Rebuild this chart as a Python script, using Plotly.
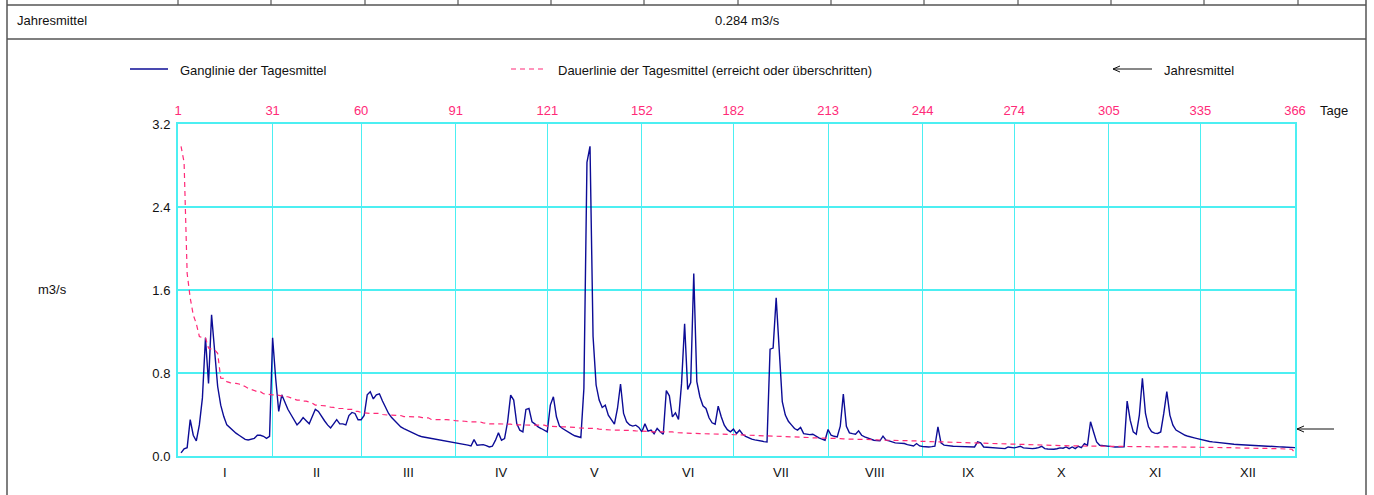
import plotly.graph_objects as go

# ---------------- data ----------------
jan = [0.03, 0.07, 0.08, 0.35, 0.20, 0.145, 0.30, 0.56, 1.14, 0.70, 1.36, 0.99, 0.67, 0.49, 0.38, 0.30,
       0.27, 0.245, 0.22, 0.20, 0.18, 0.16, 0.155, 0.16, 0.17, 0.20, 0.20, 0.19, 0.17, 0.19, 1.14]
feb = [0.75, 0.43, 0.59, 0.51, 0.45, 0.40, 0.35, 0.30, 0.33, 0.37, 0.34, 0.31, 0.38, 0.45, 0.43, 0.38,
       0.34, 0.30, 0.27, 0.31, 0.35, 0.31, 0.31, 0.30, 0.39, 0.42, 0.41, 0.35, 0.35]
mar = [0.39, 0.59, 0.62, 0.55, 0.59, 0.60, 0.53, 0.47, 0.41, 0.37, 0.34, 0.30, 0.28, 0.265, 0.25, 0.235,
       0.22, 0.205, 0.195, 0.185, 0.18, 0.175, 0.17, 0.165, 0.16, 0.155, 0.15, 0.14, 0.135, 0.13, 0.125]
apr = [0.12, 0.115, 0.11, 0.105, 0.097, 0.158, 0.104, 0.11, 0.11, 0.10, 0.087, 0.094, 0.15, 0.223, 0.152,
       0.168, 0.329, 0.587, 0.539, 0.313, 0.249, 0.233, 0.449, 0.458, 0.329, 0.307, 0.28, 0.265, 0.25, 0.233]
may = [0.491, 0.571, 0.378, 0.288, 0.265, 0.245, 0.225, 0.21, 0.195, 0.185, 0.178, 0.652, 2.83, 2.985,
       1.152, 0.684, 0.539, 0.468, 0.49, 0.394, 0.35, 0.307, 0.458, 0.694, 0.41, 0.329, 0.30, 0.288, 0.297,
       0.275, 0.233]
jun = [0.31, 0.24, 0.25, 0.215, 0.265, 0.233, 0.21, 0.63, 0.58, 0.377, 0.416, 0.352, 0.70, 1.275, 0.642,
       0.707, 1.759, 0.717, 0.571, 0.484, 0.458, 0.368, 0.32, 0.307, 0.481, 0.378, 0.297, 0.254, 0.233, 0.259]
jul = [0.216, 0.249, 0.21, 0.19, 0.172, 0.162, 0.155, 0.148, 0.142, 0.139, 0.136, 1.03, 1.04, 1.524, 1.023,
       0.523, 0.394, 0.335, 0.30, 0.265, 0.25, 0.275, 0.216, 0.208, 0.206, 0.21, 0.19, 0.174, 0.162, 0.152, 0.255]
aug = [0.2, 0.19, 0.184, 0.287, 0.597, 0.287, 0.223, 0.215, 0.21, 0.242, 0.2, 0.185, 0.174, 0.163, 0.152,
       0.15, 0.146, 0.191, 0.152, 0.146, 0.135, 0.126, 0.124, 0.122, 0.12, 0.11, 0.105, 0.097, 0.12, 0.097, 0.092]
sep = [0.088, 0.087, 0.09, 0.094, 0.281, 0.126, 0.105, 0.1, 0.097, 0.094, 0.093, 0.092, 0.091, 0.09, 0.089,
       0.088, 0.087, 0.136, 0.126, 0.087, 0.085, 0.083, 0.081, 0.078, 0.075, 0.072, 0.071, 0.087, 0.082, 0.078]
oct_ = [0.085, 0.094, 0.078, 0.075, 0.073, 0.071, 0.075, 0.08, 0.094, 0.071, 0.068, 0.066, 0.065, 0.07, 0.078,
        0.075, 0.087, 0.071, 0.087, 0.071, 0.094, 0.081, 0.12, 0.103, 0.33, 0.232, 0.136, 0.103, 0.098, 0.094, 0.092]
nov = [0.09, 0.087, 0.087, 0.087, 0.088, 0.529, 0.345, 0.232, 0.21, 0.394, 0.749, 0.41, 0.281, 0.235, 0.22,
       0.217, 0.232, 0.41, 0.62, 0.394, 0.297, 0.25, 0.232, 0.215, 0.2, 0.19, 0.18, 0.175, 0.168, 0.16]
dec = [0.155, 0.148, 0.14, 0.136, 0.132, 0.128, 0.126, 0.122, 0.118, 0.115, 0.113, 0.111, 0.109, 0.106, 0.104,
       0.102, 0.1, 0.098, 0.097, 0.096, 0.095, 0.094, 0.093, 0.092, 0.09, 0.088, 0.087, 0.086, 0.085, 0.083, 0.081]

tick_days = [0, 31, 60, 91, 121, 152, 182, 213, 244, 274, 305, 335, 366]
tick_labels = ["1", "31", "60", "91", "121", "152", "182", "213", "244", "274", "305", "335", "366"]
month_labels = ["I", "II", "III", "IV", "V", "VI", "VII", "VIII", "IX", "X", "XI", "XII"]
y_ticks = [0.0, 0.8, 1.6, 2.4, 3.2]
jahresmittel = 0.284

tages = jan + feb + mar + apr + may + jun + jul + aug + sep + oct_ + nov + dec
days = list(range(1, len(tages) + 1))
dauer = sorted(tages, reverse=True)  # Dauerlinie = sortierte Tagesmittel

# ---------------- geometry helpers ----------------
W_FIG, H_FIG = 1374, 495
L, T, R, B = 178, 124, 79, 39
PW, PH = W_FIG - L - R, H_FIG - T - B


def px(x):
    return (x - L) / PW


def py(y):
    return (T + PH - y) / PH


CYAN = "#4CEFF2"
PINK = "#FF2A78"
NAVY = "#0C0C96"
FRAME = "#555555"
TXT = "#111111"
FONT = "Liberation Sans, Arial, sans-serif"
FS = 13

fig = go.Figure()
fig.add_trace(go.Scatter(x=days, y=tages, mode="lines", line=dict(color=NAVY, width=1.4),
                         name="Ganglinie der Tagesmittel", showlegend=False))
fig.add_trace(go.Scatter(x=days, y=dauer, mode="lines", line=dict(color=PINK, width=1.2, dash="5px,4px"),
                         name="Dauerlinie", showlegend=False))

fig.update_xaxes(range=[0, 366], tickvals=tick_days, ticktext=tick_labels, side="top",
                 showgrid=True, gridcolor=CYAN, gridwidth=1, zeroline=False,
                 showline=True, mirror=True, linecolor=CYAN, linewidth=2,
                 ticks="", ticklabelstandoff=2, automargin=False,
                 tickfont=dict(family=FONT, size=FS, color=PINK))
fig.update_yaxes(range=[0, 3.2], tickvals=y_ticks, ticktext=[f"{v:.1f}" for v in y_ticks],
                 showgrid=True, gridcolor=CYAN, gridwidth=2, zeroline=False,
                 showline=True, mirror=True, linecolor=CYAN, linewidth=2,
                 ticks="", ticklabelstandoff=3, automargin=False,
                 tickfont=dict(family=FONT, size=FS, color=TXT))

shapes = []
ann = []


def hline(x0, x1, y, color=FRAME, w=1.5):
    shapes.append(dict(type="line", xref="paper", yref="paper", x0=px(x0), x1=px(x1), y0=py(y), y1=py(y),
                       line=dict(color=color, width=w)))


def vline(x, y0, y1, color=FRAME, w=1.5):
    shapes.append(dict(type="line", xref="paper", yref="paper", x0=px(x), x1=px(x), y0=py(y0), y1=py(y1),
                       line=dict(color=color, width=w)))


def text(x, y, s, anchor="left", color=TXT):
    ann.append(dict(x=px(x), y=py(y), xref="paper", yref="paper", text=s, showarrow=False,
                    xanchor=anchor, yanchor="middle", font=dict(family=FONT, size=FS, color=color)))


# table / frames
hline(7, 1366, 5)
hline(7, 1366, 39)
vline(7, -2, 497)
vline(1366, -2, 497)
for xv in [178, 271, 365, 458, 551, 644, 738, 831, 924, 1018, 1111, 1204, 1298]:
    vline(xv, -2, 5, w=1.2)

text(15, 20, "Jahresmittel")
text(747, 20, f"{jahresmittel} m3/s", anchor="center")

# legend
shapes.append(dict(type="line", xref="paper", yref="paper", x0=px(130), x1=px(168), y0=py(69), y1=py(69),
                   line=dict(color=NAVY, width=1.4)))
text(178, 70, "Ganglinie der Tagesmittel")
shapes.append(dict(type="line", xref="paper", yref="paper", x0=px(511), x1=px(543), y0=py(69), y1=py(69),
                   line=dict(color=PINK, width=1.2, dash="5px,4px")))
text(556, 70, "Dauerlinie der Tagesmittel (erreicht oder überschritten)")
shapes.append(dict(type="line", xref="paper", yref="paper", x0=px(1113), x1=px(1152), y0=py(69), y1=py(69),
                   line=dict(color=TXT, width=1)))
for dy in (-3, 3):
    shapes.append(dict(type="line", xref="paper", yref="paper", x0=px(1113), x1=px(1120), y0=py(69),
                       y1=py(69 + dy), line=dict(color=TXT, width=1)))
text(1162, 70, "Jahresmittel")

# Jahresmittel arrow on the right edge
AY = 429
shapes.append(dict(type="line", xref="paper", yref="paper", x0=px(1297), x1=px(1334), y0=py(AY), y1=py(AY),
                   line=dict(color=TXT, width=1)))
for dy in (-3, 3):
    shapes.append(dict(type="line", xref="paper", yref="paper", x0=px(1297), x1=px(1304), y0=py(AY),
                       y1=py(AY + dy), line=dict(color=TXT, width=1)))

# axis texts
text(1318, 111, "Tage")
text(52, 289, "m3/s", anchor="center")
for i, m in enumerate(month_labels):
    ann.append(dict(x=(tick_days[i] + tick_days[i + 1]) / 2, y=py(472), xref="x", yref="paper", text=m,
                    showarrow=False, xanchor="center", yanchor="middle",
                    font=dict(family=FONT, size=FS, color=TXT)))

fig.update_layout(width=W_FIG, height=H_FIG, margin=dict(l=L, r=R, t=T, b=B, autoexpand=False),
                  paper_bgcolor="white", plot_bgcolor="white", shapes=shapes, annotations=ann,
                  showlegend=False, font=dict(family=FONT), hovermode=False)

fig.write_html("out.html", config={"displayModeBar": False, "staticPlot": True},
               post_script="document.body.style.margin='0';document.body.style.overflow='hidden';")
